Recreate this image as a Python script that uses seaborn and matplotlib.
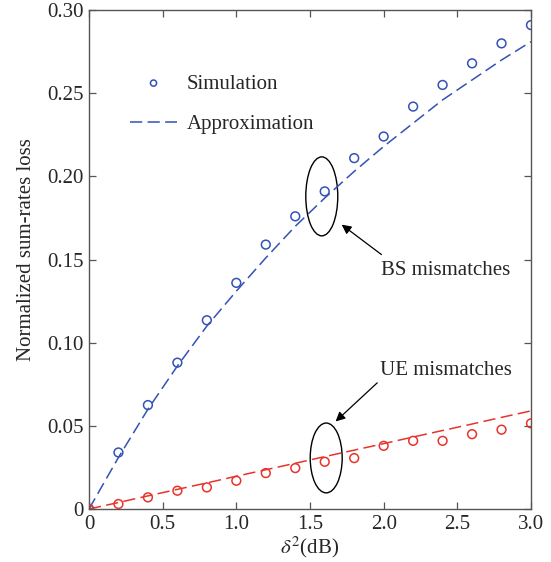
import numpy as np
import pandas as pd
import matplotlib
matplotlib.use("Agg")
import matplotlib.pyplot as plt
import seaborn as sns
from matplotlib.patches import Ellipse

# data
delta2 = [0.0, 0.2, 0.4, 0.6, 0.8, 1.0, 1.2, 1.4, 1.6, 1.8, 2.0, 2.2, 2.4, 2.6, 2.8, 3.0]
bs_sim = [0.0, 0.034, 0.0625, 0.088, 0.1135, 0.136, 0.159, 0.176, 0.191, 0.211,
          0.224, 0.242, 0.255, 0.268, 0.280, 0.291]
bs_approx = [0.0, 0.031, 0.060, 0.086, 0.110, 0.131, 0.151, 0.170, 0.187, 0.203,
             0.218, 0.232, 0.246, 0.258, 0.270, 0.281]
ue_sim = [0.0, 0.003, 0.007, 0.011, 0.013, 0.017, 0.0216, 0.0246, 0.0284, 0.0306,
          0.038, 0.041, 0.041, 0.045, 0.0477, 0.0515]
ue_approx = [0.0, 0.0039, 0.0079, 0.0118, 0.0157, 0.0197, 0.0236, 0.0275, 0.0315,
             0.0354, 0.0393, 0.0433, 0.0472, 0.0511, 0.0551, 0.059]

BLUE = "#3352b5"
RED = "#e8332b"
FS = 15

sns.set_style("ticks")
plt.rcParams["font.family"] = ["Liberation Serif", "DejaVu Serif"]
plt.rcParams["mathtext.fontset"] = "stix"

fig = plt.figure(figsize=(5.51, 5.62), dpi=100)
ax = fig.add_axes([0.1615, 0.0943, 0.8022, 0.8877])

df = pd.DataFrame({"x": delta2, "bs_sim": bs_sim, "bs_approx": bs_approx,
                   "ue_sim": ue_sim, "ue_approx": ue_approx})

sns.lineplot(data=df, x="x", y="bs_approx", ax=ax, color=BLUE, lw=1.1,
             label="Approximation", zorder=2)
ax.lines[-1].set_dashes([8, 3.5])
sns.lineplot(data=df, x="x", y="ue_approx", ax=ax, color=RED, lw=1.1, zorder=2)
ax.lines[-1].set_dashes([8, 3.5])
sns.scatterplot(data=df, x="x", y="bs_sim", ax=ax, marker="o", s=40,
                facecolor="none", edgecolor=BLUE, linewidth=1.1,
                label="Simulation", zorder=3)
sns.scatterplot(data=df, x="x", y="ue_sim", ax=ax, marker="o", s=40,
                facecolor="none", edgecolor=RED, linewidth=1.1, zorder=3)

ax.set_xlim(0, 3.0)
ax.set_ylim(0, 0.30)
ax.set_xticks([0, 0.5, 1.0, 1.5, 2.0, 2.5, 3.0])
ax.set_xticklabels(["0", "0.5", "1.0", "1.5", "2.0", "2.5", "3.0"])
ax.set_yticks([0, 0.05, 0.10, 0.15, 0.20, 0.25, 0.30])
ax.set_yticklabels(["0", "0.05", "0.10", "0.15", "0.20", "0.25", "0.30"])
ax.tick_params(direction="in", top=True, right=True, labelsize=FS,
               length=5, width=0.9, color="#555555", pad=4)
for sp in ax.spines.values():
    sp.set_color("#555555")
    sp.set_linewidth(1.0)

ax.set_xlabel(r"$\delta^2$(dB)", fontsize=FS, labelpad=1)
ax.set_ylabel("Normalized sum-rates loss", fontsize=FS)
ax.yaxis.set_label_coords(-0.12, 0.52)

# legend: simulation first
h, l = ax.get_legend_handles_labels()
order = [l.index("Simulation"), l.index("Approximation")]
ax.legend([h[i] for i in order], [l[i] for i in order], loc="upper left",
          bbox_to_anchor=(0.093, 0.872), frameon=False, fontsize=FS,
          handlelength=2.25, handletextpad=0.45, labelspacing=1.0,
          borderpad=0, borderaxespad=0, markerscale=0.7)

# annotations
ax.add_patch(Ellipse((1.58, 0.188), 0.217, 0.0475, fill=False, ec="black", lw=1.0))
ax.add_patch(Ellipse((1.61, 0.0307), 0.217, 0.042, fill=False, ec="black", lw=1.0))
ax.annotate("", xy=(1.70, 0.172), xytext=(2.00, 0.152),
            arrowprops=dict(arrowstyle="-|>", color="black", lw=0.9,
                            mutation_scale=14))
ax.text(2.42, 0.1435, "BS mismatches", ha="center", va="center", fontsize=FS)
ax.annotate("", xy=(1.66, 0.0515), xytext=(1.97, 0.077),
            arrowprops=dict(arrowstyle="-|>", color="black", lw=0.9,
                            mutation_scale=14))
ax.text(2.42, 0.083, "UE mismatches", ha="center", va="center", fontsize=FS)

fig.savefig("out.png", dpi=100)
